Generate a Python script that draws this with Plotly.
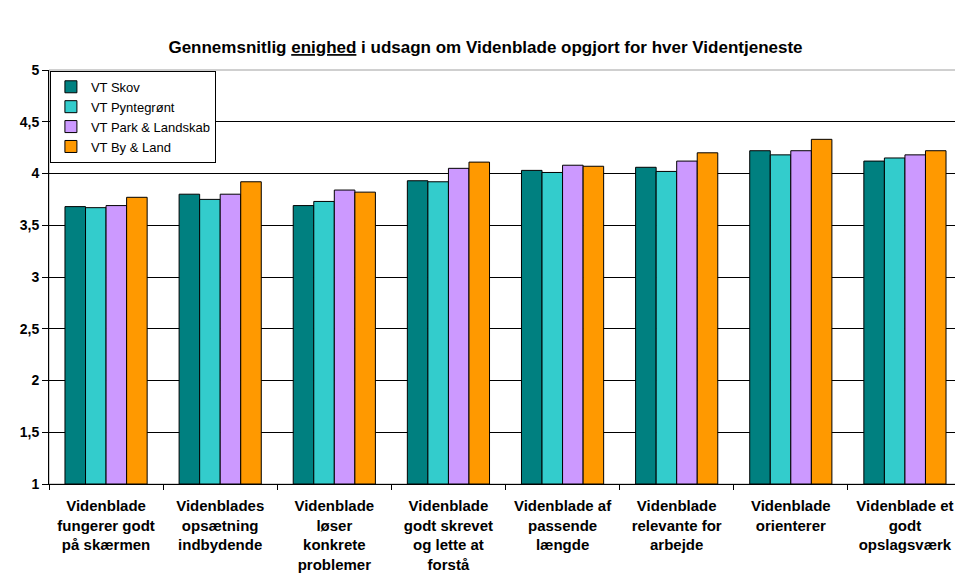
import plotly.graph_objects as go

categories = [
    "Videnblade<br>fungerer godt<br>på skærmen",
    "Videnblades<br>opsætning<br>indbydende",
    "Videnblade<br>løser<br>konkrete<br>problemer",
    "Videnblade<br>godt skrevet<br>og lette at<br>forstå",
    "Videnblade af<br>passende<br>længde",
    "Videnblade<br>relevante for<br>arbejde",
    "Videnblade<br>orienterer",
    "Videnblade et<br>godt<br>opslagsværk",
]

vt_skov = [3.68, 3.80, 3.69, 3.93, 4.03, 4.06, 4.22, 4.12]
vt_pyntegroent = [3.67, 3.75, 3.73, 3.92, 4.01, 4.02, 4.18, 4.15]
vt_park_landskab = [3.69, 3.80, 3.84, 4.05, 4.08, 4.12, 4.22, 4.18]
vt_by_land = [3.77, 3.92, 3.82, 4.11, 4.07, 4.20, 4.33, 4.22]

y_ticks = [1, 1.5, 2, 2.5, 3, 3.5, 4, 4.5, 5]
y_tick_labels = ["1", "1,5", "2", "2,5", "3", "3,5", "4", "4,5", "5"]

series = [
    ("VT Skov", vt_skov, "#008080"),
    ("VT Pyntegrønt", vt_pyntegroent, "#33CCCC"),
    ("VT Park & Landskab", vt_park_landskab, "#CC99FF"),
    ("VT By & Land", vt_by_land, "#FF9900"),
]

FONT = "Liberation Sans, Arial, sans-serif"

fig = go.Figure()
for name, vals, color in series:
    # bars start at 1 (the axis floor), like the Excel original
    fig.add_trace(go.Bar(
        x=categories, y=[v - 1 for v in vals], base=1, name=name,
        marker=dict(color=color, line=dict(color="black", width=1)),
    ))

# page body has an 8px margin, so the figure is shrunk to fit the window
fig.update_layout(
    width=955, height=567,
    margin=dict(l=41, r=1, t=62, b=91),
    paper_bgcolor="white", plot_bgcolor="white",
    font=dict(family=FONT, color="black"),
    title=dict(
        text="<b>Gennemsnitlig <u>enighed</u> i udsagn om Videnblade opgjort for hver Videntjeneste</b>",
        x=0.5, xanchor="center", y=0.931, yanchor="middle",
        font=dict(size=17),
    ),
    barmode="group", bargap=0.28, bargroupgap=0,
    showlegend=True,
    legend=dict(
        x=0.001, y=0.998, xanchor="left", yanchor="top",
        bgcolor="white", bordercolor="black", borderwidth=1,
        font=dict(size=13), tracegroupgap=0, itemwidth=30,
    ),
)

fig.update_xaxes(
    tickmode="array", tickvals=categories,
    ticktext=["<b>%s</b>" % c for c in categories],
    showline=True, linecolor="black", linewidth=1,
    ticks="outside", tickson="boundaries", ticklen=5, tickcolor="black",
    tickfont=dict(size=15, family=FONT), ticklabelstandoff=8,
    showgrid=False,
)
fig.update_yaxes(
    range=[1, 5], tickmode="array", tickvals=y_ticks,
    ticktext=["<b>%s</b>" % t for t in y_tick_labels],
    showline=True, linecolor="black", linewidth=1,
    ticks="outside", ticklen=6, tickcolor="black",
    tickfont=dict(size=14, family=FONT),
    showgrid=True, gridcolor="black", gridwidth=1,
    zeroline=False,
)

# grey frame on top/right
fig.add_shape(type="rect", xref="paper", yref="paper", x0=0, x1=1, y0=0, y1=1,
              line=dict(color="#A0A0A0", width=1), layer="below")

fig.write_html("out.html")
